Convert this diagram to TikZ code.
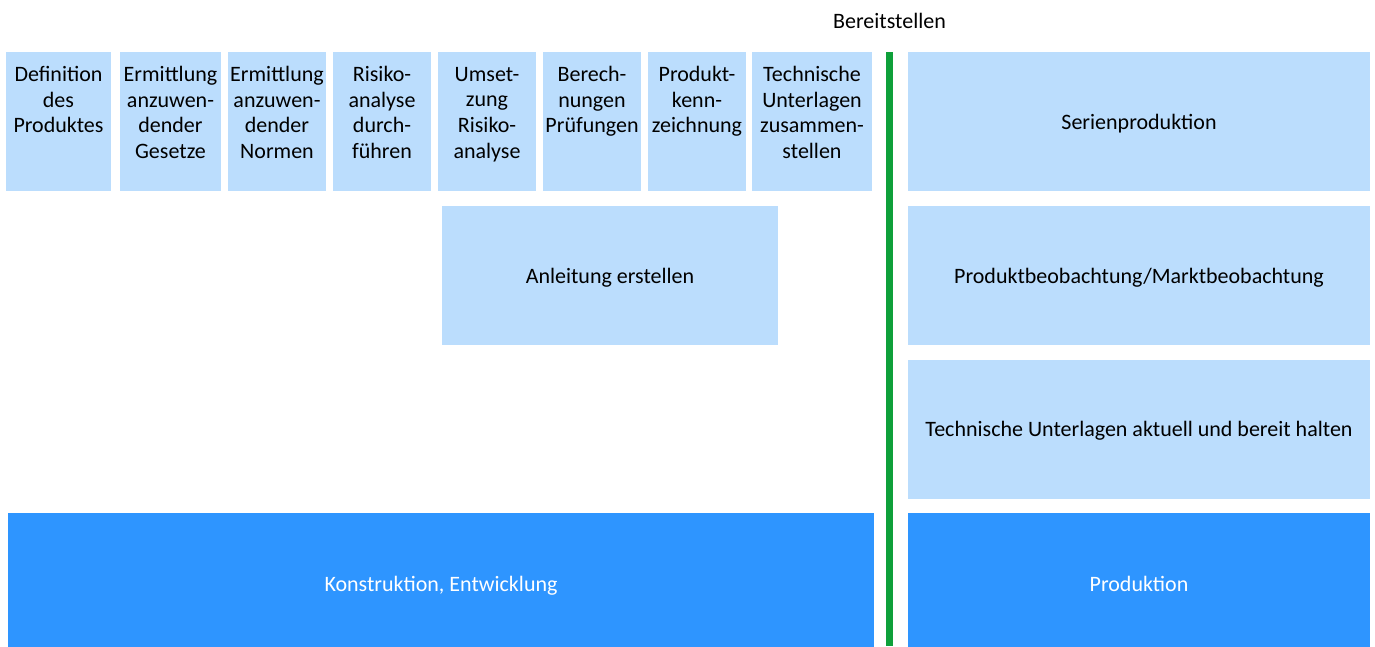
\documentclass[tikz,border=0pt]{standalone}
\usepackage{fontspec}
\setmainfont{Carlito}
\usepackage{tikz}
\usetikzlibrary{positioning}
\usepackage{xcolor}
\definecolor{lightbox}{RGB}{187,221,253}
\definecolor{darkbox}{RGB}{46,149,255}
\definecolor{divider}{RGB}{14,160,58}

\begin{document}
\begin{tikzpicture}[x=1pt,y=-1pt,
    every node/.style={font=\fontsize{22}{25.8}\selectfont},
    stepbox/.style={fill=lightbox,inner sep=0pt,minimum height=139pt,text height=16pt,text depth=1pt},
    steptext/.style={anchor=north,align=center,inner sep=0pt},
    phasebox/.style={fill=darkbox,inner sep=0pt,minimum height=142pt,text height=16pt,text depth=1pt,text=white},
  ]
  \useasboundingbox (0,0) rectangle (1375,646);

  \node[stepbox,minimum width=105pt] (def)  at (58.5,121.5) {};
  \node[stepbox,minimum width=101pt] (ges)  at (170.5,121.5) {};
  \node[stepbox,minimum width=98pt]  (norm) at (277,121.5) {};
  \node[stepbox,minimum width=98pt]  (risk) at (382,121.5) {};
  \node[stepbox,minimum width=98pt]  (ums)  at (487,121.5) {};
  \node[stepbox,minimum width=98pt]  (ber)  at (592,121.5) {};
  \node[stepbox,minimum width=98pt]  (kenn) at (697,121.5) {};
  \node[stepbox,minimum width=120pt] (tech) at (812,121.5) {};

  \node[steptext] (def-t)  at ([yshift=-14pt]def.north)  {Definition\\des\\Produktes};
  \node[steptext] (ges-t)  at ([yshift=-14pt]ges.north)  {Ermittlung\\anzuwen-\\dender\\Gesetze};
  \node[steptext] (norm-t) at ([yshift=-14pt]norm.north) {Ermittlung\\anzuwen-\\dender\\Normen};
  \node[steptext] (risk-t) at ([yshift=-14pt]risk.north) {Risiko-\\analyse\\durch-\\führen};
  \node[steptext] (ums-t)  at ([yshift=-15pt]ums.north)  {Umset-\\zung\\Risiko-\\analyse};
  \node[steptext] (ber-t)  at ([yshift=-14pt]ber.north)  {Berech-\\nungen\\Prüfungen};
  \node[steptext] (kenn-t) at ([yshift=-14pt]kenn.north) {Produkt-\\kenn-\\zeichnung};
  \node[steptext] (tech-t) at ([yshift=-14pt]tech.north) {Technische\\Unterlagen\\zusammen-\\stellen};

  \node[stepbox,minimum width=336pt] (anl) at (610,275.5) {Anleitung erstellen};

  \node[stepbox,minimum width=462pt] (serie) at (1139,121.5) {Serienproduktion};
  \node[stepbox,minimum width=462pt] (markt) at (1139,275.5) {Produktbeobachtung/Marktbeobachtung};
  \node[stepbox,minimum width=462pt] (halt)  at (1139,429) {Technische Unterlagen aktuell und bereit halten};

  \node[phasebox,minimum width=866pt] (konst) at (441,584) {Konstruktion, Entwicklung};
  \node[phasebox,minimum width=462pt] (prod)  at (1139,584) {Produktion};

  \node (bereit) at (889.5,21) {Bereitstellen};
  \coordinate (line-top) at (889.5,52);
  \coordinate (line-bot) at (889.5,646);
  \draw[divider,line width=7pt] (line-top) -- (line-bot);
\end{tikzpicture}
\end{document}
